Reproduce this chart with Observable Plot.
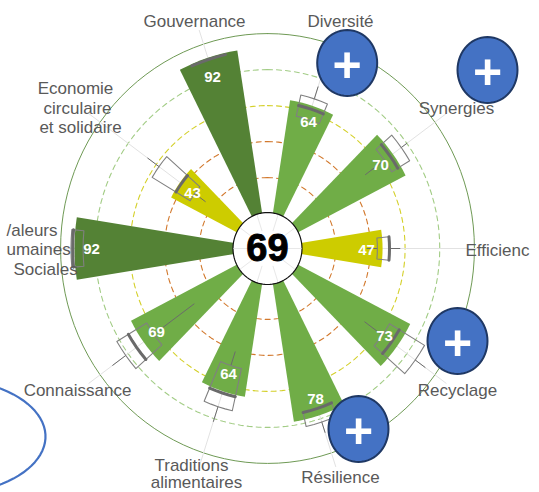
<!DOCTYPE html>
<html><head><meta charset="utf-8">
<script src="https://cdn.jsdelivr.net/npm/d3@7"></script>
<script src="https://cdn.jsdelivr.net/npm/@observablehq/plot@0.6"></script>
<style>html,body{margin:0;padding:0;background:#fff}svg{display:block}</style>
</head><body><div id="c"></div>
<script>
// ---- data (clockwise, starting at Gouvernance)
const axes      = ["Gouvernance","Diversité","Synergies","Efficience","Recyclage","Résilience","Traditions alimentaires","Connaissance","Valeurs Humaines et Sociales","Economie circulaire et solidaire"];
const scores    = [92,64,70,47,73,78,64,69,92,43];
const means     = [91,62,68,51,69,74,65,74,93,42];
const boxLow    = [null,56,64,44,62.5,74,49,61.7,87,32.5];
const boxHigh   = [null,68,76,51,86,82,73,81.7,94,58];
const whiskLow  = [null,null,50.5,38,50,null,41,33,null,25];
const whiskHigh = [null,75,80,57,93,88,81.6,91,null,66];
const overall   = 69;
const ringLevels = [20,40,60,80,100];
const ringColors = ["#d2782c","#d2782c","#d4d02a","#a2cc85","#6f9a55"];

// ---- layout (pixels of the 539x492 picture)
const W = 539, H = 492, CX = 267, CY = 248, SX = 1.733, SY = 1.8, R0 = 19.4;
const fromPx = ([px,py]) => ({x:(px-CX)/SX, y:(CY-py)/SY});
const pol = (deg,v) => {const a=deg*Math.PI/180, r=R0+v; return {x:r*Math.sin(a), y:r*Math.cos(a)};};
const ang = i => -18 + 36*i;
const tierColor = v => v>=80 ? "#548235" : v>=50 ? "#70AD47" : "#CDCC00";
const arc = (deg,half,v,n=8) => d3.range(n+1).map(k=>pol(deg-half+2*half*k/n,v));

const wedges = scores.flatMap((v,i)=>[pol(ang(i),-R0),...arc(ang(i),9,v)].map(p=>({...p,z:i,c:tierColor(v)})));
const rings = ringLevels.flatMap((v,i)=>d3.range(0,361,3).map(a=>({...pol(a,v),z:i,c:ringColors[i]})));
const spokes = axes.flatMap((_,i)=>[pol(ang(i),0),pol(ang(i),108)].map(p=>({...p,z:i})));
const hubSpokes = axes.flatMap((_,i)=>[pol(ang(i),-9),pol(ang(i),0)].map(p=>({...p,z:i})));
const boxes = axes.flatMap((_,i)=>boxLow[i]==null?[]:[...arc(ang(i),5.3,boxLow[i],4),...arc(ang(i),5.3,boxHigh[i],4).reverse(),pol(ang(i)-5.3,boxLow[i])].map(p=>({...p,z:i})));
const ticks = means.flatMap((v,i)=>arc(ang(i),5.3,v,4).map(p=>({...p,z:i})));
const whiskers = axes.flatMap((_,i)=>{
  const out=[];
  if(whiskLow[i]!=null) out.push([whiskLow[i],boxLow[i]]);
  if(whiskHigh[i]!=null) out.push([boxHigh[i],whiskHigh[i]]);
  return out.flatMap((s,j)=>s.map(v=>({...pol(ang(i),v),z:i+"-"+j})));
});
const hub = d3.range(0,361,4).map(a=>{const t=a*Math.PI/180;return fromPx([CX+34.5*Math.sin(t),CY+36*Math.cos(t)]);});

const buttons = [[346.7,62.5],[487,69.5],[457,340.5],[358,428.5]];
const buttonOutline = buttons.flatMap(([bx,by],i)=>d3.range(0,361,6).map(a=>{const t=a*Math.PI/180;return {...fromPx([bx+30*Math.sin(t),by+33*Math.cos(t)]),z:i};}));
const buttonMarks = buttons.map(([bx,by])=>({...fromPx([bx,by+3]),t:"+"}));
const leftArc = d3.range(0,181,4).map(a=>{const t=a*Math.PI/180;return fromPx([-60+105*Math.sin(t),436-58.5*Math.cos(t)]);});

const labelRows = [
 ["Gouvernance",194,21,"middle"],["Diversité",340,21,"middle"],["Synergies",456,108,"middle"],
 ["Efficienc",465,250,"start"],["Recyclage",457,390,"middle"],["Résilience",340,477,"middle"],
 ["Traditions",191,465,"middle"],["alimentaires",196,482.5,"middle"],["Connaissance",77,390,"middle"],
 ["Economie",75,88,"middle"],["circulaire",77,108,"middle"],["et solidaire",80,127,"middle"],
 ["/aleurs",6,230,"start"],["umaines",6,249,"start"],["Sociales",13,269,"start"]
].map(([t,px,py,a])=>({t,a,...fromPx([px,py])}));
const scorePx = [[212,77],[308,122],[380,165],[366,250],[384,336],[315,399],[228,374],[156,332],[91,249],[192,193]];
const scoreLabels = scores.map((v,i)=>({t:String(v),...fromPx(scorePx[i])}));

const textOf = (rows,anchor,opts)=>Plot.text(rows,{x:"x",y:"y",text:"t",textAnchor:anchor,...opts});

const chart = Plot.plot({
  width:W,height:H,margin:0,
  x:{domain:[-CX/SX,(W-CX)/SX],range:[0,W],axis:null},
  y:{domain:[(CY-H)/SY,CY/SY],range:[H,0],axis:null},
  color:{type:"identity"},
  style:{background:"#fff",fontFamily:"'Liberation Sans',Arial,sans-serif",overflow:"hidden"},
  marks:[
    Plot.line(rings.filter(d=>d.z<4),{x:"x",y:"y",z:"z",stroke:"c",strokeWidth:1.1,strokeDasharray:"5,4"}),
    Plot.line(rings.filter(d=>d.z===4),{x:"x",y:"y",z:"z",stroke:"c",strokeWidth:1}),
    Plot.line(spokes,{x:"x",y:"y",z:"z",stroke:"#e2e2e2",strokeWidth:1}),
    Plot.line(wedges,{x:"x",y:"y",z:"z",fill:"c",stroke:"none"}),
    Plot.line(whiskers,{x:"x",y:"y",z:"z",stroke:"#6b6b6b",strokeWidth:1}),
    Plot.line(boxes,{x:"x",y:"y",z:"z",stroke:"#808080",strokeWidth:1.1}),
    Plot.line(ticks,{x:"x",y:"y",z:"z",stroke:"#6a6a6a",strokeWidth:3}),
    Plot.line(hub,{x:"x",y:"y",fill:"#fff",stroke:"#111",strokeWidth:1.2}),
    Plot.line(hubSpokes,{x:"x",y:"y",z:"z",stroke:"#e8e8e8",strokeWidth:1}),
    Plot.text([overall],{x:0,y:0,text:d=>String(d),fontSize:38,fontWeight:"bold",fill:"#000",stroke:"#000",strokeWidth:0.9}),
    Plot.text(scoreLabels,{x:"x",y:"y",text:"t",fontSize:15,fontWeight:"bold",fill:"#fff"}),
    Plot.line(leftArc,{x:"x",y:"y",stroke:"#4472C4",strokeWidth:2.2}),
    Plot.line(buttonOutline,{x:"x",y:"y",z:"z",fill:"#4472C4",stroke:"#1F3864",strokeWidth:2}),
    Plot.text(buttonMarks,{x:"x",y:"y",text:"t",fontSize:50,fontWeight:"bold",fill:"#fff"}),
    textOf(labelRows.filter(d=>d.a==="middle"),"middle",{fontSize:17,fill:"#595959"}),
    textOf(labelRows.filter(d=>d.a==="start"),"start",{fontSize:17,fill:"#595959"})
  ]
});
document.getElementById("c").appendChild(chart);
</script></body></html>
